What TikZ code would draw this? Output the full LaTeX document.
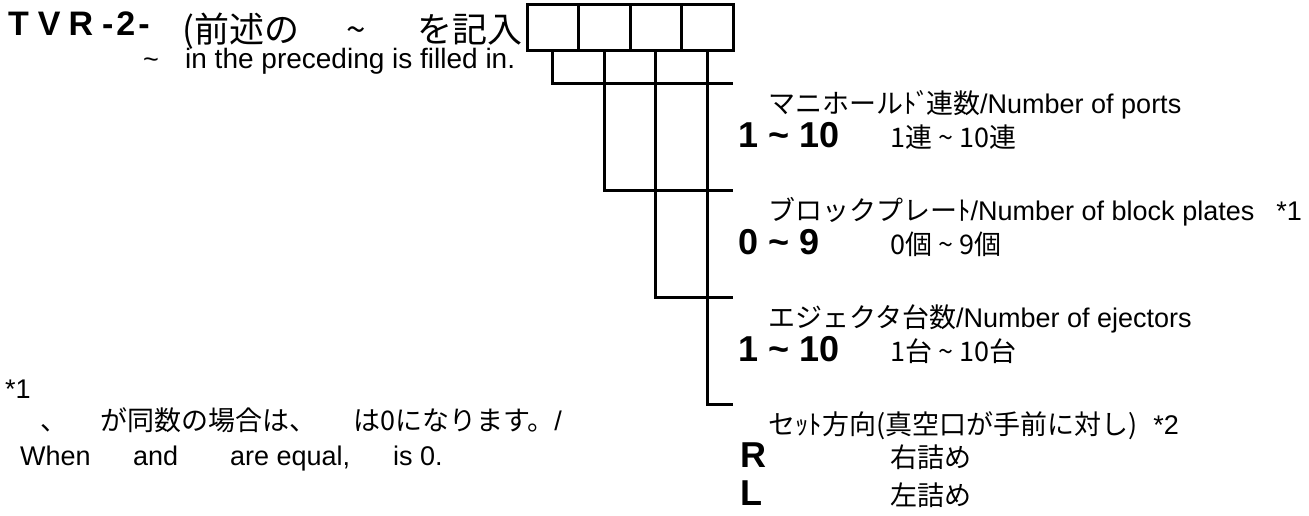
\documentclass[tikz,border=0pt]{standalone}
\usepackage{fontspec}
\setmainfont{Liberation Sans}
\newfontfamily\jp{Noto Sans CJK JP}
\usetikzlibrary{positioning}

\begin{document}
\begin{tikzpicture}[x=1pt,y=-1pt,
    cell/.style={draw,line width=3pt,minimum width=51.5pt,minimum height=46pt,inner sep=0pt,outer sep=0pt},
    wire/.style={line width=3pt},
    txt/.style={anchor=base west,inner sep=0pt,font=\fontsize{27}{27}\selectfont},
    jtxt/.style={anchor=base west,inner sep=0pt,font=\fontsize{27}{27}\selectfont\jp},
    ttl/.style={anchor=base west,inner sep=0pt,font=\fontsize{34}{34}\selectfont\bfseries},
    jttl/.style={anchor=base west,inner sep=0pt,font=\fontsize{35}{35}\selectfont\jp},
    big/.style={anchor=base west,inner sep=0pt,font=\fontsize{36}{36}\selectfont\bfseries}]
  \useasboundingbox (0,0) rectangle (1309,515);

  \node[ttl] (tvr) at (8,35) {T\hspace{9pt}V\hspace{8pt}R\hspace{9pt}-\hspace{3pt}2\hspace{3pt}-};
  \node[jttl] (pre) at (182,42) {(前述の};
  \node[jttl] (til1) at (346,42) {\textasciitilde};
  \node[jttl] (fill) at (417,42) {を記入};
  \node[txt] (til2) at (143,68) {\textasciitilde};
  \node[txt,font=\fontsize{28}{28}\selectfont] (eng) at (185,68) {in the preceding is filled in.};

  \node[cell] (c1) at (552.75,27) {};
  \node[cell,right=0pt of c1] (c2) {};
  \node[cell,right=0pt of c2] (c3) {};
  \node[cell,right=0pt of c3] (c4) {};
  \coordinate (e1) at (733,83);
  \coordinate (e2) at (733,190);
  \coordinate (e3) at (733,297);
  \coordinate (e4) at (733,404);
  \draw[wire] (c1.south) |- (e1);
  \draw[wire] (c2.south) |- (e2);
  \draw[wire] (c3.south) |- (e3);
  \draw[wire] (c4.south) |- (e4);

  \node[txt] (nport) at (768,113) {{\jp マニホールﾄﾞ\hspace{-4pt}連数}/Number of ports};
  \node[big] (vport) at (738,147) {1 \textasciitilde{} 10};
  \node[jtxt] (sport) at (890,147) {1連 \textasciitilde{} 10連};

  \node[txt] (nblk) at (768,220) {{\jp ブロックプレーﾄ}/Number of block plates\hspace{22pt}*1};
  \node[big] (vblk) at (738,254) {0 \textasciitilde{} 9};
  \node[jtxt] (sblk) at (890,254) {0個 \textasciitilde{} 9個};

  \node[txt] (nej) at (768,327) {{\jp エジェクタ台数}/Number of ejectors};
  \node[big] (vej) at (738,361) {1 \textasciitilde{} 10};
  \node[jtxt] (sej) at (890,361) {1台 \textasciitilde{} 10台};

  \node[jtxt] (nset) at (768,434) {セｯﾄ方向(真空口が手前に対し)\hspace{16pt}{\rmfamily *2}};
  \node[big] (vr) at (740,467) {R};
  \node[jtxt] (sr) at (890,467) {右詰め};
  \node[big] (vl) at (740,505) {L};
  \node[jtxt] (sl) at (890,505) {左詰め};

  \node[txt] (note) at (5,398) {*1};
  \node[jtxt] (nj1) at (40,430) {、};
  \node[jtxt] (nj2) at (100,430) {が同数の場合は、};
  \node[jtxt] (nj3) at (353,430) {は0になります。{\rmfamily /}};
  \node[txt] (ne1) at (20,465) {When};
  \node[txt] (ne2) at (133,465) {and};
  \node[txt] (ne3) at (230,465) {are equal,};
  \node[txt] (ne4) at (393,465) {is 0.};
\end{tikzpicture}
\end{document}
